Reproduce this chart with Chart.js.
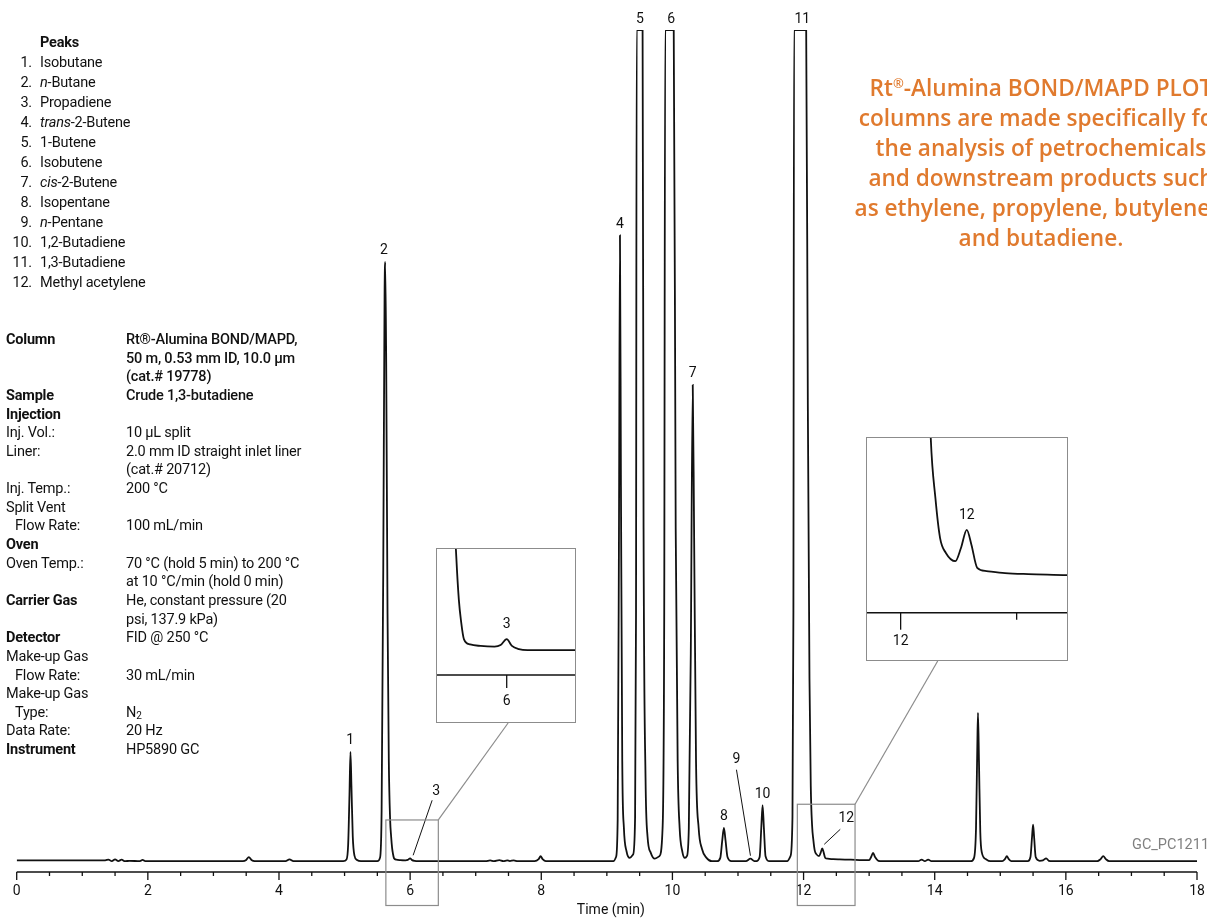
<!DOCTYPE html>
<html>
<head>
<meta charset="utf-8">
<script src="https://cdn.jsdelivr.net/npm/chart.js@4.4.1/dist/chart.umd.min.js"></script>
<style>
  html, body { margin: 0; padding: 0; background: #fff; }
  body { width: 1207px; height: 918px; overflow: hidden; position: relative;
         font-family: Roboto, "Noto Sans", sans-serif; color: #111; }
  #main { position: absolute; left: 0; top: 0; }
  .inset { position: absolute; box-sizing: border-box; border: 1px solid #8c8c8c; background: #fff; }
  .inset canvas { display: block; }
  #inset1 { left: 436px; top: 548px; width: 140px; height: 175px; }
  #inset2 { left: 866px; top: 437px; width: 202px; height: 224px; }
  #peaks { position: absolute; left: 0; top: 33px; font-size: 14.5px; line-height: 20px; letter-spacing: -0.2px; }
  #peaks .row { display: flex; }
  #peaks .num { width: 32px; text-align: right; }
  #peaks .name { padding-left: 8px; }
  #conditions { position: absolute; left: 6px; top: 331px; font-size: 14.5px; line-height: 18.64px; letter-spacing: -0.2px; }
  .cond { display: flex; }
  .cond .lab { width: 120px; flex: none; box-sizing: border-box; }
  .cond .ind { padding-left: 9px; }
  .b { font-weight: 700; }
  .m { font-weight: 500; }
  sub { font-size: 10px; vertical-align: -2px; line-height: 0; }
  #blurb { position: absolute; left: 791px; top: 73px; width: 500px; text-align: center; white-space: nowrap;
           color: #e07a2e; font: 600 22.6px/30px "Open Sans", sans-serif; }
  #blurb sup { font-size: 13px; line-height: 0; vertical-align: 8px; }
  #code { position: absolute; left: 1132px; top: 836px; color: #808080; font-size: 14.5px; }
</style>
</head>
<body>
<canvas id="main" width="1207" height="918"></canvas>

<div id="peaks"></div>

<div id="conditions">
  <div class="cond"><div class="lab b">Column</div><div class="m">Rt®-Alumina BOND/MAPD,<br>50 m, 0.53 mm ID, 10.0 µm<br>(cat.# 19778)</div></div>
  <div class="cond"><div class="lab b">Sample</div><div class="m">Crude 1,3-butadiene</div></div>
  <div class="cond"><div class="lab b">Injection</div><div></div></div>
  <div class="cond"><div class="lab">Inj. Vol.:</div><div>10 µL split</div></div>
  <div class="cond"><div class="lab">Liner:</div><div>2.0 mm ID straight inlet liner<br>(cat.# 20712)</div></div>
  <div class="cond"><div class="lab">Inj. Temp.:</div><div>200 °C</div></div>
  <div class="cond"><div class="lab">Split Vent</div><div></div></div>
  <div class="cond"><div class="lab ind">Flow Rate:</div><div>100 mL/min</div></div>
  <div class="cond"><div class="lab b">Oven</div><div></div></div>
  <div class="cond"><div class="lab">Oven Temp.:</div><div>70 °C (hold 5 min) to 200 °C<br>at 10 °C/min (hold 0 min)</div></div>
  <div class="cond"><div class="lab b">Carrier Gas</div><div>He, constant pressure (20<br>psi, 137.9 kPa)</div></div>
  <div class="cond"><div class="lab b">Detector</div><div>FID @ 250 °C</div></div>
  <div class="cond"><div class="lab">Make-up Gas</div><div></div></div>
  <div class="cond"><div class="lab ind">Flow Rate:</div><div>30 mL/min</div></div>
  <div class="cond"><div class="lab">Make-up Gas</div><div></div></div>
  <div class="cond"><div class="lab ind">Type:</div><div>N<sub>2</sub></div></div>
  <div class="cond"><div class="lab">Data Rate:</div><div>20 Hz</div></div>
  <div class="cond"><div class="lab b">Instrument</div><div>HP5890 GC</div></div>
</div>

<div id="blurb">Rt<sup>®</sup>-Alumina BOND/MAPD PLOT<br>columns are made specifically for<br>the analysis of petrochemicals<br>and downstream products such<br>as ethylene, propylene, butylenes,<br>and butadiene.</div>

<div id="code">GC_PC1211</div>

<div class="inset" id="inset1"><canvas id="c1" width="138" height="173"></canvas></div>
<div class="inset" id="inset2"><canvas id="c2" width="200" height="222"></canvas></div>

<script>
// chromatogram trace: retention time (min) / detector signal (% of full scale)
const time = [
  0.00, 1.35, 1.40, 1.45, 1.50, 1.55, 1.60, 1.65, 1.72, 1.88, 1.92, 1.96,
  3.45, 3.50, 3.54, 3.58, 3.63, 4.10, 4.16, 4.22,
  4.98, 5.03, 5.055, 5.075, 5.09, 5.105, 5.125, 5.15, 5.19, 5.25,
  5.50, 5.54, 5.565, 5.59, 5.61, 5.62, 5.635, 5.655, 5.675, 5.695, 5.71, 5.725, 5.737, 5.754, 5.79, 5.85, 5.93, 5.965, 6.00, 6.03, 6.07, 6.12,
  7.15, 7.22, 7.28, 7.36, 7.42, 7.48, 7.52, 7.58, 7.64,
  7.90, 7.96, 7.99, 8.02, 8.07,
  9.10, 9.14, 9.165, 9.185, 9.20, 9.215, 9.235, 9.26, 9.30, 9.35,
  9.40, 9.43, 9.445, 9.455, 9.545, 9.56, 9.59, 9.62, 9.67, 9.73,
  9.80, 9.85, 9.875, 9.89, 10.02, 10.05, 10.08, 10.11, 10.15, 10.19,
  10.22, 10.25, 10.28, 10.31, 10.33, 10.36, 10.40, 10.45, 10.52, 10.60,
  10.68, 10.73, 10.76, 10.785, 10.81, 10.84, 10.90,
  11.12, 11.19, 11.25,
  11.28, 11.33, 11.355, 11.375, 11.395, 11.42, 11.48,
  11.75, 11.80, 11.83, 11.845, 11.855, 12.04, 12.065, 12.09, 12.11, 12.13, 12.15, 12.17, 12.195, 12.236, 12.26, 12.285, 12.305, 12.33, 12.37, 12.45, 12.55, 12.72, 12.90, 13.00, 13.03, 13.06, 13.09, 13.14, 13.20,
  13.75, 13.80, 13.85, 13.90, 13.95,
  14.55, 14.60, 14.63, 14.65, 14.66, 14.675, 14.695, 14.72, 14.78, 14.85,
  15.03, 15.07, 15.10, 15.13, 15.17,
  15.42, 15.46, 15.485, 15.50, 15.515, 15.54, 15.60, 15.65, 15.70, 15.74, 15.80,
  16.48, 16.53, 16.57, 16.61, 16.66, 18.00
];
const signal = [
  0.1, 0.1, 0.2, 0.0, 0.22, 0.02, 0.18, 0.0, 0.05, 0.0, 0.15, 0.0,
  0, 0.15, 0.5, 0.15, 0, 0, 0.22, 0,
  0, 0.2, 2, 8, 13.15, 9, 3, 0.7, 0.15, 0,
  0, 0.4, 6, 35, 68, 72.1, 60, 30, 12, 5, 3.0, 1.6, 0.95, 0.35, 0.18, 0.13, 0.11, 0.16, 0.35, 0.13, 0.03, 0,
  0, 0.1, 0, 0.12, 0, 0.1, 0.02, 0.1, 0,
  0, 0.25, 0.6, 0.25, 0,
  0, 0.5, 5, 40, 75.3, 45, 12, 4, 1.2, 0.4,
  0.8, 5, 30, 100, 100, 40, 10, 3, 1, 0.3,
  0.6, 4, 30, 100, 100, 40, 12, 4, 1.2, 0.4,
  0.6, 4, 25, 57.3, 40, 12, 4, 1.5, 0.4, 0,
  0, 0.4, 2.5, 4.0, 2.5, 0.5, 0,
  0, 0.3, 0,
  0, 0.5, 4, 6.75, 4, 0.6, 0,
  0, 0.6, 5, 30, 100, 100, 55, 22, 9, 4.3, 2.5, 1.3, 0.85, 0.6, 1.0, 1.55, 1.1, 0.4, 0.3, 0.24, 0.21, 0.18, 0.12, 0.12, 0.5, 1.0, 0.5, 0.05, 0,
  0, 0.2, 0, 0.2, 0,
  0, 0.4, 4, 14, 17.85, 12, 3.5, 1, 0.25, 0,
  0, 0.25, 0.6, 0.25, 0,
  0, 0.5, 3, 4.4, 3, 0.5, 0.05, 0.1, 0.35, 0.05, 0,
  0, 0.25, 0.6, 0.25, 0, 0
];

// numbered peaks and their names
const peakLabels = ['1', '2', '3', '4', '5', '6', '7', '8', '9', '10', '11', '12'];
const peakTimes = [5.085, 5.60, 6.00, 9.20, 9.505, 9.98, 10.31, 10.785, 11.19, 11.375, 11.98, 12.285];
const peakNames = ['Isobutane', '<i>n</i>-Butane', 'Propadiene', '<i>trans</i>-2-Butene', '1-Butene', 'Isobutene',
  '<i>cis</i>-2-Butene', 'Isopentane', '<i>n</i>-Pentane', '1,2-Butadiene', '1,3-Butadiene', 'Methyl acetylene'];

// zoomed windows shown in the two insets
const zoomStart = [5.63, 11.905];
const zoomEnd = [6.43, 12.785];
const zoomTop = [4.96, 6.85];

const tickStep = 0.5;
const labelStep = 2;

// leader lines for the small peaks (pixel offsets from the apex)
const leaders = {
  '3': { tx: 26, ty: -67, x1: 22, y1: -58, x2: 3, y2: -3 },
  '9': { tx: -14, ty: -99, x1: -14, y1: -89, x2: 0, y2: -3 },
  '12': { tx: 24, ty: -30, x1: 18, y1: -19, x2: 2, y2: -4 }
};
const anchorFrac = [0.515, 0.355];

document.getElementById('peaks').innerHTML =
  '<div class="row"><div class="num"></div><div class="name b">Peaks</div></div>' +
  peakNames.map((n, i) => `<div class="row"><div class="num">${peakLabels[i]}.</div><div class="name">${n}</div></div>`).join('');

const points = time.map((t, i) => ({ x: t, y: signal[i] }));

const timeAxis = {
  id: 'timeAxis',
  afterDraw(chart, args, o) {
    const { ctx, chartArea: a, scales: { x } } = chart;
    ctx.save();
    ctx.strokeStyle = '#111';
    ctx.fillStyle = '#111';
    ctx.lineWidth = 1.5;
    ctx.beginPath();
    ctx.moveTo(a.left, a.bottom);
    ctx.lineTo(a.right, a.bottom);
    ctx.stroke();
    ctx.font = '14px Roboto';
    ctx.textAlign = 'center';
    ctx.textBaseline = 'middle';
    ctx.lineWidth = 1.3;
    for (let v = Math.ceil(x.min / tickStep - 1e-9) * tickStep; v <= x.max + 1e-9; v += tickStep) {
      const px = x.getPixelForValue(v);
      const major = Math.abs(v % labelStep) < 1e-6;
      ctx.beginPath();
      ctx.moveTo(px, a.bottom);
      ctx.lineTo(px, a.bottom + (major ? o.majorLen : o.minorLen));
      ctx.stroke();
      if (major) ctx.fillText(String(Math.round(v)), px, a.bottom + o.labelGap);
    }
    if (o.title) ctx.fillText(o.title, (a.left + a.right) / 2 + 4, a.bottom + o.titleGap);
    ctx.restore();
  }
};

const peakLabelPlugin = {
  id: 'peakLabels',
  afterDatasetsDraw(chart, args, o) {
    const { ctx, scales: { x, y } } = chart;
    ctx.save();
    ctx.font = '14px Roboto';
    ctx.fillStyle = '#111';
    ctx.strokeStyle = '#111';
    ctx.lineWidth = 1;
    ctx.textAlign = 'center';
    ctx.textBaseline = 'middle';
    peakLabels.forEach((lab, i) => {
      if (o.only && !o.only.includes(lab)) return;
      const t = peakTimes[i];
      let v = -Infinity;
      time.forEach((tt, j) => { if (Math.abs(tt - t) <= 0.1) v = Math.max(v, signal[j]); });
      v = Math.min(v, y.max);
      const px = x.getPixelForValue(t), py = y.getPixelForValue(v);
      const L = o.leaders ? leaders[lab] : null;
      if (L) {
        ctx.beginPath();
        ctx.moveTo(px + L.x1, py + L.y1);
        ctx.lineTo(px + L.x2, py + L.y2);
        ctx.stroke();
        ctx.fillText(lab, px + L.tx, py + L.ty);
      } else {
        ctx.fillText(lab, px, py - o.gap);
      }
    });
    ctx.restore();
  }
};

const zoomBoxes = {
  id: 'zoomBoxes',
  afterDraw(chart) {
    const { ctx, chartArea: a, scales: { x, y } } = chart;
    ctx.save();
    ctx.strokeStyle = '#8c8c8c';
    ctx.lineWidth = 1.2;
    zoomStart.forEach((t0, i) => {
      const x0 = x.getPixelForValue(t0), x1 = x.getPixelForValue(zoomEnd[i]);
      const y0 = y.getPixelForValue(zoomTop[i]), y1 = a.bottom + 33.5;
      ctx.strokeRect(x0, y0, x1 - x0, y1 - y0);
      const r = document.getElementById('inset' + (i + 1)).getBoundingClientRect();
      ctx.beginPath();
      ctx.moveTo(x1, y0);
      ctx.lineTo(r.left + r.width * anchorFrac[i], r.bottom);
      ctx.stroke();
    });
    ctx.restore();
  }
};

function traceChart(canvas, xr, yr, padding, axisOpts, labelOpts, extra) {
  return new Chart(canvas, {
    type: 'line',
    data: {
      datasets: [{
        data: points,
        borderColor: '#111',
        borderWidth: 1.8,
        pointRadius: 0,
        cubicInterpolationMode: 'monotone',
        fill: false
      }]
    },
    options: {
      responsive: false,
      animation: false,
      devicePixelRatio: 1,
      layout: { padding },
      scales: {
        x: { type: 'linear', min: xr[0], max: xr[1], display: false },
        y: { min: yr[0], max: yr[1], display: false }
      },
      plugins: {
        legend: { display: false },
        tooltip: { enabled: false },
        timeAxis: axisOpts,
        peakLabels: labelOpts
      }
    },
    plugins: [timeAxis, peakLabelPlugin].concat(extra || [])
  });
}

Chart.defaults.font.family = 'Roboto';

traceChart(document.getElementById('main'), [0, 18], [-1.3, 100],
  { left: 16.7, right: 10, top: 30, bottom: 46 },
  { majorLen: 8, minorLen: 4, labelGap: 19, title: 'Time (min)', titleGap: 38.5 },
  { gap: 11, leaders: true },
  [zoomBoxes]);

traceChart(document.getElementById('c1'), [5.5994, 6.3925], [-0.796, 3.22],
  { left: 0, right: 0, top: 0, bottom: 47 },
  { majorLen: 13, minorLen: 7, labelGap: 26 },
  { gap: 15, only: ['3'] });

traceChart(document.getElementById('c2'), [11.855, 12.717], [-0.96, 4.33],
  { left: 0, right: 0, top: 0, bottom: 47.3 },
  { majorLen: 17, minorLen: 7, labelGap: 29 },
  { gap: 14, only: ['12'] });
</script>
</body>
</html>
